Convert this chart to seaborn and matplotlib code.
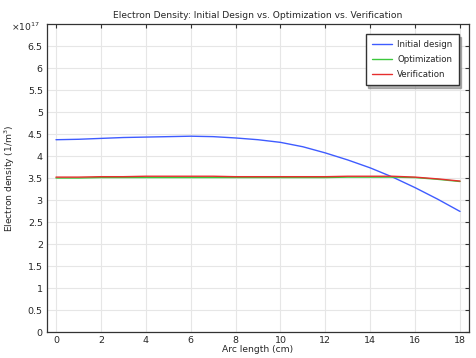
import matplotlib
matplotlib.use("Agg")
import matplotlib.pyplot as plt
import seaborn as sns
import pandas as pd

arc_cm = [0, 1, 2, 3, 4, 5, 6, 7, 8, 9, 10, 11, 12, 13, 14, 15, 16, 17, 18]
initial_design = [4.37, 4.38, 4.40, 4.42, 4.43, 4.44, 4.45, 4.44, 4.41, 4.37, 4.31, 4.21, 4.07, 3.91, 3.73, 3.52, 3.28, 3.02, 2.74]
optimization = [3.50, 3.50, 3.51, 3.51, 3.51, 3.51, 3.51, 3.51, 3.51, 3.51, 3.51, 3.51, 3.51, 3.52, 3.52, 3.52, 3.51, 3.47, 3.42]
verification = [3.52, 3.52, 3.53, 3.53, 3.54, 3.54, 3.54, 3.54, 3.53, 3.53, 3.53, 3.53, 3.53, 3.54, 3.54, 3.54, 3.52, 3.48, 3.43]
series_names = ["Initial design", "Optimization", "Verification"]
colors = ["#3f5cff", "#3cc83c", "#e62e2e"]

df = pd.DataFrame({
    "x": arc_cm * 3,
    "y": initial_design + optimization + verification,
    "series": sum([[n] * len(arc_cm) for n in series_names], []),
})

sns.set_style("whitegrid")
plt.rcParams["font.family"] = ["DejaVu Sans"]

fig = plt.figure(figsize=(4.77, 3.58), dpi=100)
ax = fig.add_axes([47 / 477, 1 - 332 / 358, (469 - 47) / 477, (332 - 24) / 358])

sns.lineplot(data=df, x="x", y="y", hue="series", palette=colors, ax=ax, linewidth=1.0,
             hue_order=series_names)

ax.set_xlim(-0.4, 18.4)
ax.set_ylim(0, 7.0)
ax.set_xticks(range(0, 19, 2))
ax.set_yticks([i * 0.5 for i in range(14)])
ax.set_yticklabels(["0" if i == 0 else ("%g" % (i * 0.5)) for i in range(14)])
ax.tick_params(axis="both", direction="in", length=3, width=0.8, labelsize=6.8, color="#333333",
               top=True, right=True, pad=3)
ax.grid(True, color="#e6e6e6", linewidth=0.8)
for s in ax.spines.values():
    s.set_color("#333333")
    s.set_linewidth(0.9)

ax.set_xlabel("Arc length (cm)", fontsize=6.6, labelpad=0)
ax.set_ylabel("Electron density (1/m$^3$)", fontsize=6.6, labelpad=8)
ax.set_title("Electron Density: Initial Design vs. Optimization vs. Verification", fontsize=6.6, pad=4)
ax.text(-0.085, 0.99, "×10$^{17}$", transform=ax.transAxes, fontsize=6.6, va="center", ha="left")

leg = ax.legend(loc="upper right", fontsize=6.2, frameon=True, fancybox=False,
                shadow={"shade": 0.5, "alpha": 0.6},
                borderaxespad=1.2, handlelength=2.4, labelspacing=0.7, borderpad=0.7,
                handletextpad=0.6)
leg.get_frame().set_edgecolor("#333333")
leg.get_frame().set_linewidth(1.0)
leg.set_title(None)

fig.savefig("out.png", dpi=100)
